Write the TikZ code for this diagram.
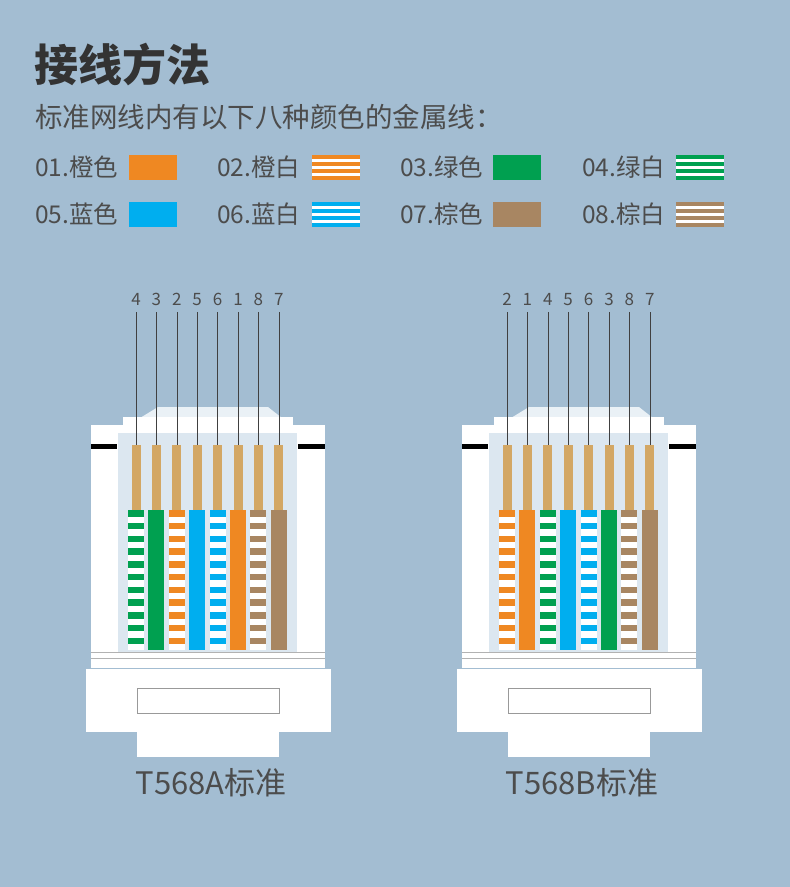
\documentclass[tikz,border=0pt]{standalone}
\usepackage{fontspec}
\setmainfont{Noto Sans CJK SC}
\begin{document}
\begin{tikzpicture}[x=1pt,y=-1pt,
  txt/.style={text=black!70,font=\fontsize{24.5}{26}\selectfont,inner sep=0,anchor=west},
  lbl/.style={text=black!70,font=\fontsize{17}{18}\selectfont,inner sep=0,anchor=base},
  wht/.style={fill=white,draw=none}]
\definecolor{bg}{HTML}{A3BDD2}
\definecolor{co}{HTML}{EF8822}
\definecolor{cg}{HTML}{00A050}
\definecolor{cb}{HTML}{00AEEF}
\definecolor{cn}{HTML}{A88662}
\definecolor{gold}{HTML}{D3A764}
\definecolor{panel}{HTML}{DCE7F0}
\fill[bg] (0,0) rectangle (790,887);
\useasboundingbox (0,0) rectangle (790,887);
\node[txt,font=\fontsize{44}{48}\selectfont\bfseries,text=black!80] (title) at (34,65) {接线方法};
\node[txt,font=\fontsize{27.5}{30}\selectfont] (sub) at (35,117) {标准网线内有以下八种颜色的金属线：};
% legend
\newcommand{\solidsw}[3]{\fill[#3] (#1,#2) rectangle ++(48,25);}
\newcommand{\stripesw}[3]{\fill[white] (#1,#2) rectangle ++(48,25);
  \foreach \k in {0,2,4,6}{\fill[#3] (#1,#2+\k*25/7) rectangle ++(48,25/7);}}
\node[txt] (l1) at (35,167) {01.橙色}; \solidsw{129}{155}{co}
\node[txt] (l2) at (217,167) {02.橙白}; \stripesw{312}{155}{co}
\node[txt] (l3) at (400,167) {03.绿色}; \solidsw{493}{155}{cg}
\node[txt] (l4) at (582,167) {04.绿白}; \stripesw{676}{155}{cg}
\node[txt] (l5) at (35,214) {05.蓝色}; \solidsw{129}{202}{cb}
\node[txt] (l6) at (217,214) {06.蓝白}; \stripesw{312}{202}{cb}
\node[txt] (l7) at (400,214) {07.棕色}; \solidsw{493}{202}{cn}
\node[txt] (l8) at (582,214) {08.棕白}; \stripesw{676}{202}{cn}
% connectors
\foreach \ox/\labs/\cols/\name in {
  0/{4,3,2,5,6,1,8,7}/{cg,cg,co,cb,cb,co,cn,cn}/T568A标准,
  371/{2,1,4,5,6,3,8,7}/{co,co,cg,cb,cb,cg,cn,cn}/T568B标准}{
  \begin{scope}[xshift=\ox]
  \fill[panel!60!white] (140,418) -- (158,407) -- (268,407) -- (282,418) -- cycle;
  \fill[white] (123,417) rectangle (293,426);
  \fill[white] (91,425) rectangle (325,668);
  \fill[panel] (118,433) rectangle (297,652);
  \fill[black] (91,444) rectangle (117,449);
  \fill[black] (298,444) rectangle (325,449);
  \draw[black!30,line width=0.6] (91,652) -- (325,652) (91,658) -- (325,658);
  \fill[white] (86,669) rectangle (331,732);
  \draw[black!40,line width=0.8] (137,688) rectangle (279,713);
  \fill[white] (137,732) rectangle (279,757);
  \node[txt,anchor=center,font=\fontsize{31}{33}\selectfont] (name\ox) at (211,783) {\name};
  \end{scope}
  \foreach \lab [count=\i] in \labs {
    \pgfmathsetmacro{\cx}{\ox+136+(\i-1)*20.4}
    \node[lbl] (n\ox-\i) at (\cx,305) {\lab};
    \coordinate (t\ox-\i) at (\cx,312);
    \coordinate (c\ox-\i) at (\cx,445);
    \fill[gold] (\cx-4.5,445) rectangle (\cx+4.5,510);
    \draw[black!75,line width=0.6] (t\ox-\i) -- (c\ox-\i);
  }
  \foreach \col [count=\i] in \cols {
    \pgfmathsetmacro{\cx}{\ox+136+(\i-1)*20.4}
    \pgfmathtruncatemacro{\st}{mod(\i,2)}
    \ifnum\st=1
      \fill[white] (\cx-8,510) rectangle (\cx+8,650);
      \foreach \k in {0,...,10}{\fill[\col] (\cx-8,510+\k*12.75) rectangle (\cx+8,516.5+\k*12.75);}
    \else
      \fill[\col] (\cx-8,510) rectangle (\cx+8,650);
    \fi
  }
}
\end{tikzpicture}
\end{document}
